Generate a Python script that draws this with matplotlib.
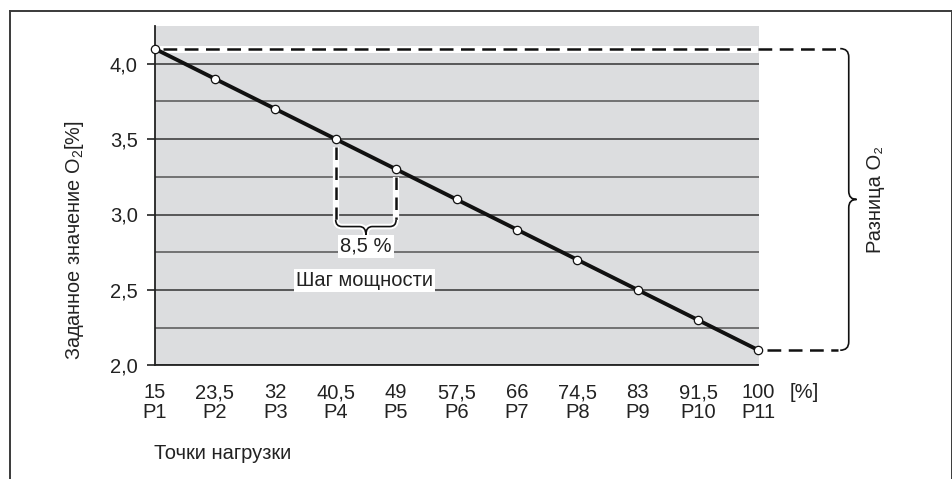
import matplotlib
matplotlib.use("Agg")
import matplotlib.pyplot as plt
from matplotlib.path import Path
from matplotlib.patches import PathPatch
import matplotlib.patheffects as pe
from matplotlib.lines import Line2D

plt.rcParams['font.family'] = ['Liberation Sans', 'DejaVu Sans']
plt.rcParams['mathtext.fontset'] = 'custom'
plt.rcParams['mathtext.rm'] = 'Liberation Sans'
plt.rcParams['mathtext.default'] = 'regular'

# ---- data ----
load_pct = [15, 23.5, 32, 40.5, 49, 57.5, 66, 74.5, 83, 91.5, 100]
load_labels = ["15", "23,5", "32", "40,5", "49", "57,5", "66", "74,5", "83", "91,5", "100"]
points = ["P1", "P2", "P3", "P4", "P5", "P6", "P7", "P8", "P9", "P10", "P11"]
o2_setpoint = [4.1, 3.9, 3.7, 3.5, 3.3, 3.1, 2.9, 2.7, 2.5, 2.3, 2.1]
y_major = [2.0, 2.5, 3.0, 3.5, 4.0]
y_major_labels = ["2,0", "2,5", "3,0", "3,5", "4,0"]
y_minor = [2.25, 2.75, 3.25, 3.75]

W, H = 953, 479
fig = plt.figure(figsize=(W / 100, H / 100), dpi=100)
fig.patch.set_facecolor('white')

# outer frame
frame_col = '#3a3a3a'
fig.add_artist(Line2D([10 / W, 10 / W], [0, 1 - 11 / H], transform=fig.transFigure, color=frame_col, lw=1.4))
fig.add_artist(Line2D([10 / W, 952 / W], [1 - 11 / H, 1 - 11 / H], transform=fig.transFigure, color=frame_col, lw=1.4))
fig.add_artist(Line2D([952 / W, 952 / W], [0, 1 - 11 / H], transform=fig.transFigure, color=frame_col, lw=1.4))

ax_l, ax_r, ax_t, ax_b = 154.5, 758.5, 26, 365.3
ax = fig.add_axes([ax_l / W, 1 - ax_b / H, (ax_r - ax_l) / W, (ax_b - ax_t) / H])
ax.set_facecolor('#dcdddf')
ax.set_xlim(15, 100)
ax.set_ylim(2.0, 4.25)

for s in ['top', 'right']:
    ax.spines[s].set_visible(False)
for s in ['left', 'bottom']:
    ax.spines[s].set_color('#222222')
    ax.spines[s].set_linewidth(1.3)

txt_col = '#222222'
fs = 14.5

# y axis
ax.set_yticks(y_major)
ax.set_yticklabels(y_major_labels, fontsize=fs, color=txt_col)
ax.set_yticks(y_minor, minor=True)
ax.tick_params(axis='y', which='major', length=6, width=1.2, color='#222222', pad=6)
ax.tick_params(axis='y', which='minor', length=0)
ax.yaxis.grid(True, which='major', color='#333333', lw=1.1)
ax.yaxis.grid(True, which='minor', color='#555555', lw=1.1)
ax.set_axisbelow(True)

# x axis
ax.set_xticks(load_pct)
ax.set_xticklabels([f"{a}\n{b}" for a, b in zip(load_labels, points)], fontsize=fs, color=txt_col, linespacing=1.05)
ax.set_xticks([load_pct[0]], minor=True)
ax.tick_params(axis='x', which='major', length=0, pad=13)
ax.tick_params(axis='x', which='minor', length=6, width=1.2, color='#222222')

ax.set_ylabel("Заданное значение O$_2$[%]", fontsize=14.3, color=txt_col)
ax.yaxis.set_label_coords(-0.114, 0.37)

ax.text(1.075, -0.08, "[%]", transform=ax.transAxes, fontsize=fs, color=txt_col, ha='center', va='center')
ax.text(0.0, -0.26, "Точки нагрузки", transform=ax.transAxes, fontsize=fs, color=txt_col, ha='left', va='center')

# dashed reference lines (white underlay + black dash)
x_brace = 111.2
dash_kw = dict(color='#111111', lw=1.8, dashes=(5.5, 3), clip_on=False, zorder=2)
white_kw = dict(color='white', lw=5, solid_capstyle='butt', clip_on=False, zorder=1.8)
ax.plot([load_pct[0], load_pct[-1]], [o2_setpoint[0]] * 2, **white_kw)
ax.plot([load_pct[0] + 1.2, x_brace], [o2_setpoint[0]] * 2, **dash_kw)
ax.plot([load_pct[-1] + 1.2, x_brace], [o2_setpoint[-1]] * 2, **dash_kw)

# right brace "Разница O2"
y1, y0 = o2_setpoint[0], o2_setpoint[-1]
ym = (y1 + y0) / 2
xa, xb, xc, ry = x_brace + 0.3, x_brace + 1.5, x_brace + 2.6, 0.055
verts = [(xa, y1), (xb, y1), (xb, y1 - ry),
         (xb, ym + ry), (xb, ym), (xc, ym),
         (xb, ym), (xb, ym - ry),
         (xb, y0 + ry), (xb, y0), (xa, y0)]
codes = [Path.MOVETO, Path.CURVE3, Path.CURVE3,
         Path.LINETO, Path.CURVE3, Path.CURVE3,
         Path.CURVE3, Path.CURVE3,
         Path.LINETO, Path.CURVE3, Path.CURVE3]
ax.add_patch(PathPatch(Path(verts, codes), fill=False, edgecolor='#111111', lw=1.2, clip_on=False))
ax.text(xc + 2.6, ym, "Разница O₂", rotation=90, fontsize=fs, color=txt_col, ha='center', va='center')

# step brace between P4 and P5
xl, xr = load_pct[3], load_pct[4]
xm = (xl + xr) / 2
yb_top, yb_line, yb_tip = 2.965, 2.92, 2.865
for xv, ytop in [(xl, o2_setpoint[3] - 0.05), (xr, o2_setpoint[4] - 0.05)]:
    ax.plot([xv, xv], [ytop, yb_top], color='white', lw=4.5, solid_capstyle='butt', zorder=1.8)
    ax.plot([xv, xv], [ytop, yb_top], color='#111111', lw=1.8, dashes=(5, 3), zorder=2)
dx = 0.9
verts2 = [(xl, yb_top), (xl, yb_line), (xl + dx, yb_line),
          (xm - dx, yb_line), (xm, yb_line), (xm, yb_tip),
          (xm, yb_line), (xm + dx, yb_line),
          (xr - dx, yb_line), (xr, yb_line), (xr, yb_top)]
ax.add_patch(PathPatch(Path(verts2, codes), fill=False, edgecolor='#111111', lw=1.2, zorder=2,
                       path_effects=[pe.Stroke(linewidth=4, foreground='white'), pe.Normal()]))

box = dict(boxstyle='square,pad=0.1', facecolor='white', edgecolor='none')
ax.text(xm, 2.79, "8,5 %", fontsize=fs, color=txt_col, ha='center', va='center', bbox=box, zorder=2.5)
ax.text(xm - 0.2, 2.565, "Шаг мощности", fontsize=fs, color=txt_col, ha='center', va='center', bbox=box, zorder=2.5)

# main line
ax.plot(load_pct, o2_setpoint, color='#111111', lw=2.8, zorder=3, clip_on=False,
        marker='o', markersize=6, markerfacecolor='white', markeredgecolor='#111111', markeredgewidth=0.9)

fig.savefig("out.png", dpi=100)
